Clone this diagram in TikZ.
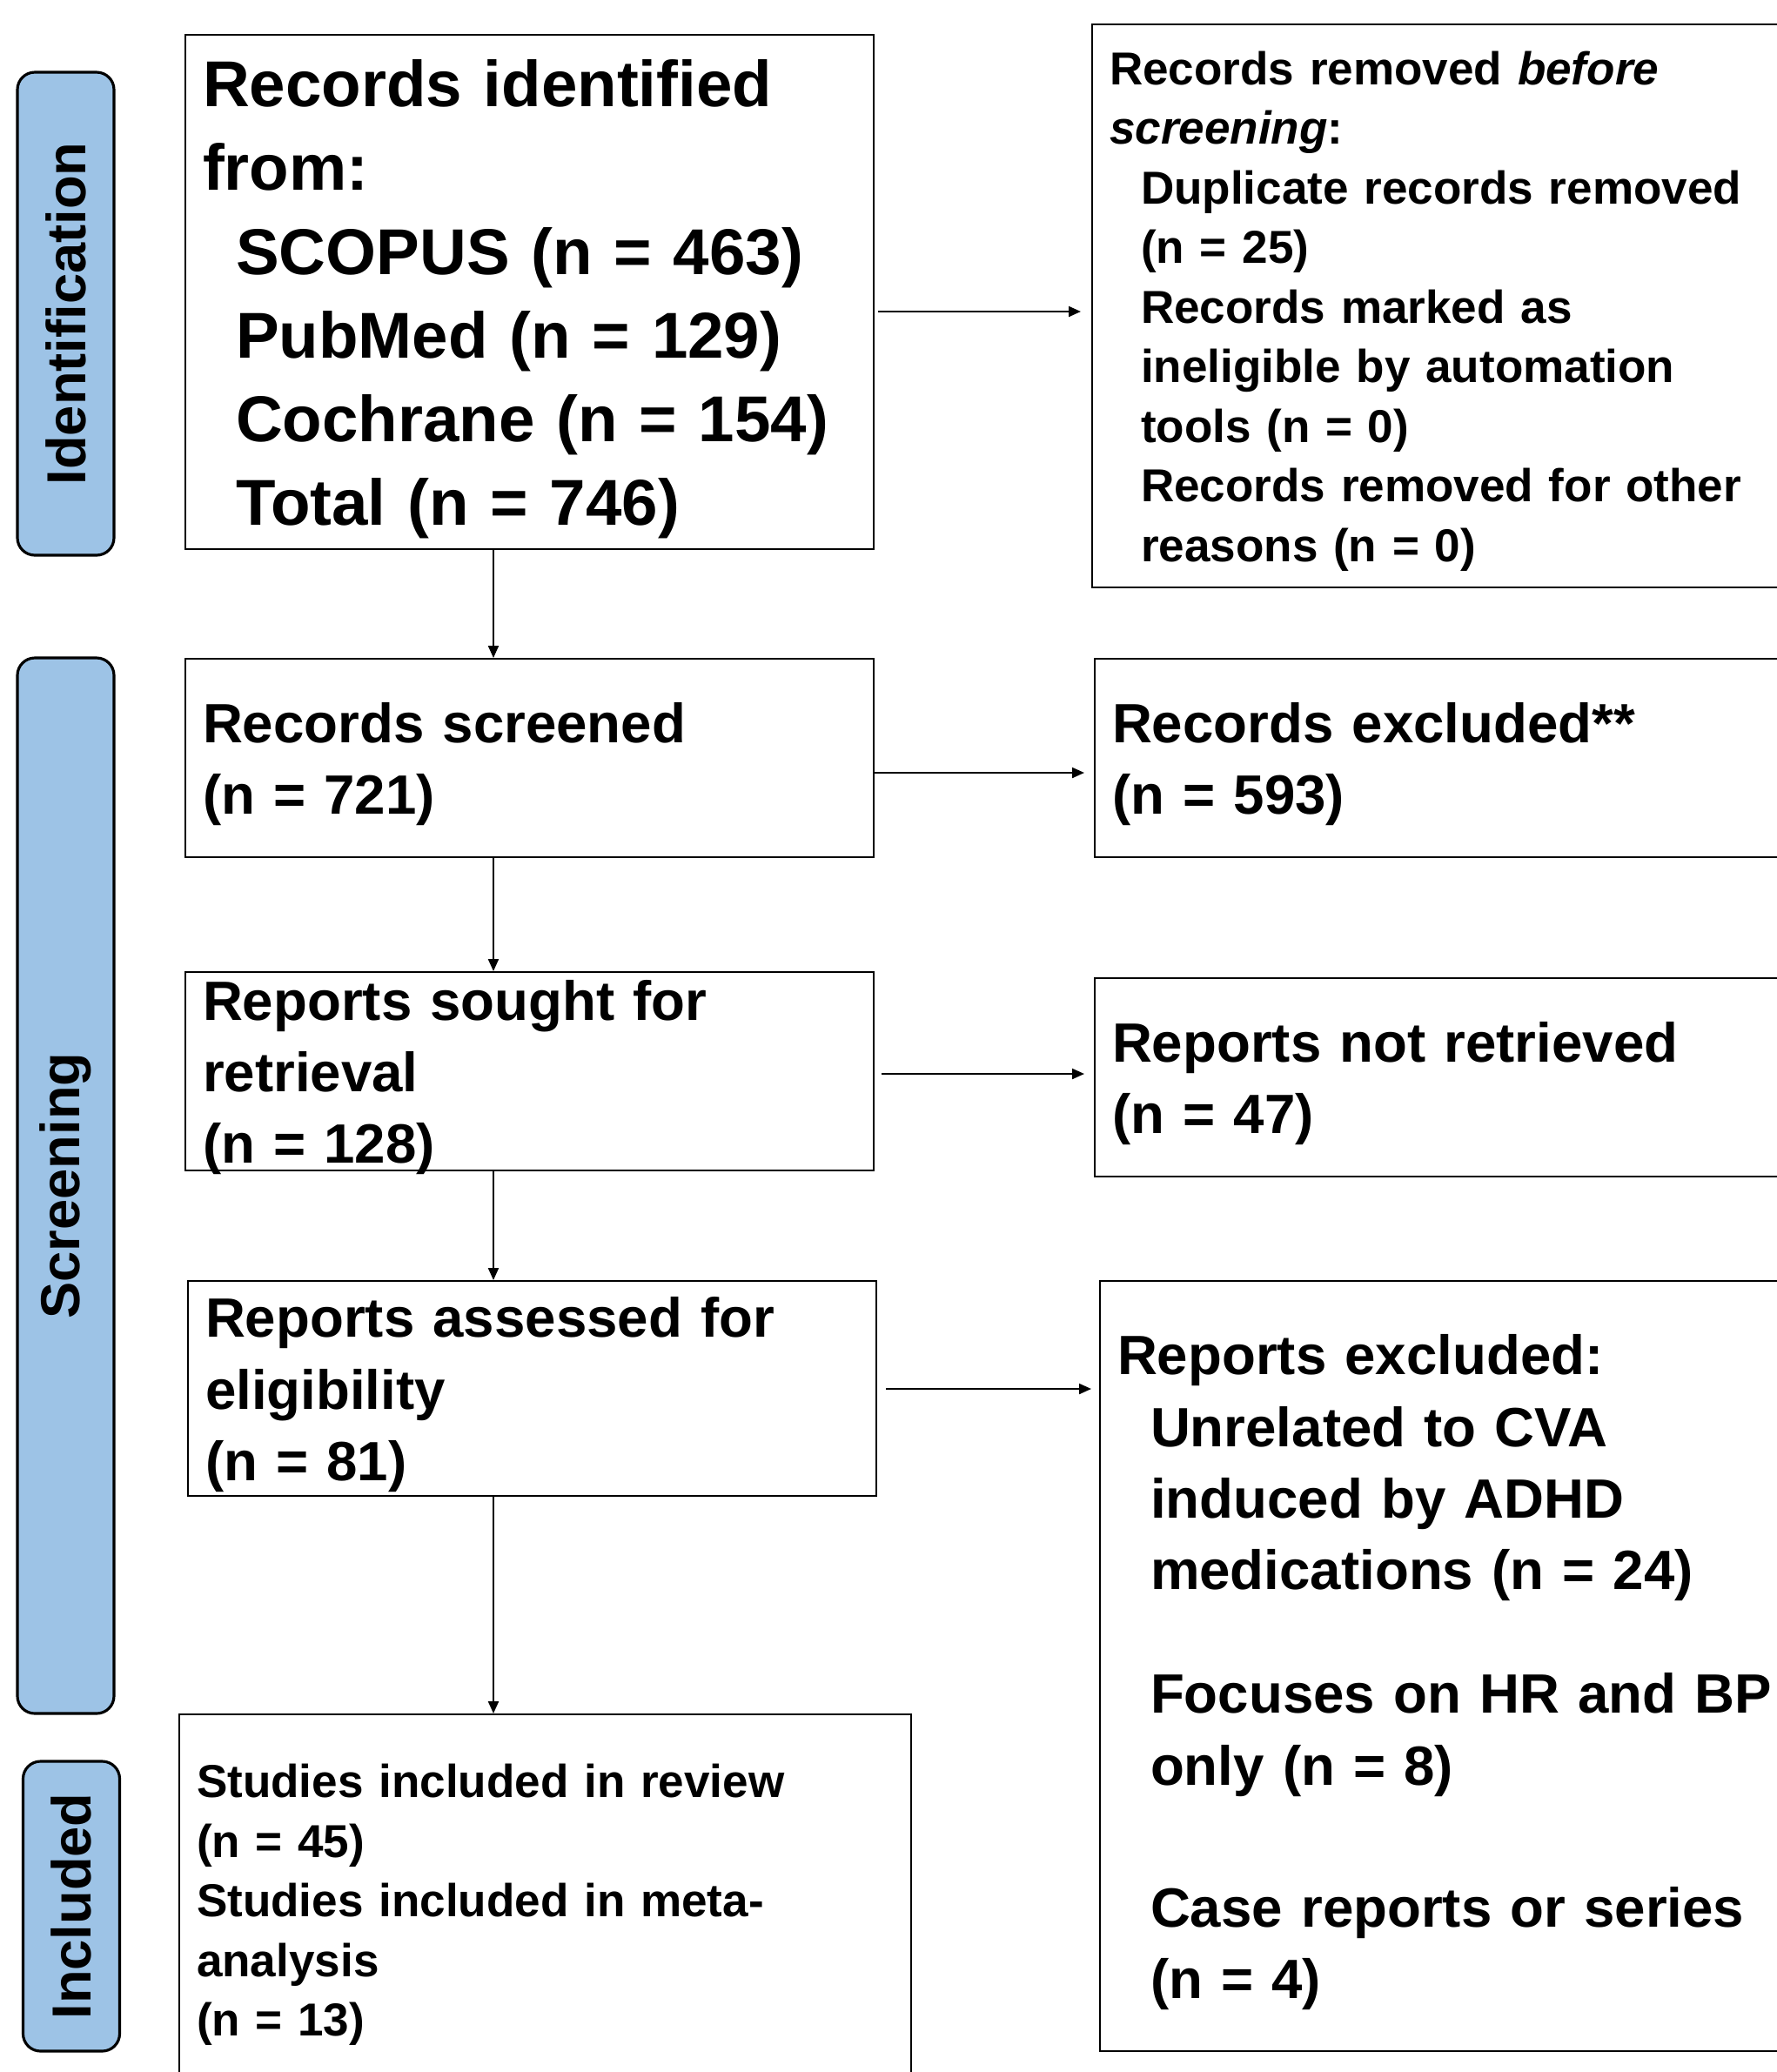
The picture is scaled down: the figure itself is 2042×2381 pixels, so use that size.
\documentclass[tikz,border=0pt]{standalone}
\usepackage{fontspec}
\setmainfont{Liberation Sans}
\usetikzlibrary{arrows.meta,positioning}
\definecolor{phaseblue}{HTML}{9DC3E6}
\newcommand{\boxgap}{\rule{0pt}{0.95em}}
\newcommand{\bigfont}{\fontsize{21.2}{27.4}\selectfont\bfseries\spaceskip=0.21em\relax}
\newcommand{\midfont}{\fontsize{18.1}{23.4}\selectfont\bfseries\spaceskip=0.24em\relax}
\newcommand{\smlfont}{\fontsize{15.1}{19.5}\selectfont\bfseries\spaceskip=0.25em\relax}

\begin{document}
\begin{tikzpicture}[x=0.1mm, y=-0.1mm,
    phase/.style={draw=black, line width=0.9pt, fill=phaseblue, rounded corners=2mm, rotate=90,
        minimum height=11.1mm, inner sep=0pt, font=\fontsize{18}{22}\selectfont\bfseries},
    flowbox/.style={draw=black, line width=0.6pt, anchor=north west, align=left,
        inner xsep=2mm, inner ysep=0pt, execute at begin node=\boxgap},
    bigtxt/.style={font=\bigfont},
    midtxt/.style={font=\midfont},
    smltxt/.style={font=\smlfont},
    arr/.style={-{Triangle[length=1.4mm,width=1.2mm]}, line width=0.6pt}
]
    \useasboundingbox (0,0) rectangle (2042,2381);
    \clip (0,0) rectangle (2042,2381);
    \def\ind{\hspace*{3.8mm}}

    % Phase labels
    \node[phase, minimum width=55.5mm] (pident) at (75.5,360.5) {Identification};
    \node[phase, minimum width=121.3mm] (pscreen) at (75.5,1362.5) {Screening};
    \node[phase, minimum width=33.3mm] (pincl) at (82,2190.5) {Included};

    % Identification
    \node[flowbox, bigtxt, text width=75.1mm, minimum height=59.1mm] (ident) at (212,39)
        {Records identified\\from:\\\ind SCOPUS (n = 463)\\\ind PubMed (n = 129)\\\ind Cochrane (n = 154)\\\ind Total (n = 746)};
    \node[flowbox, smltxt, text width=86mm, minimum height=64.7mm] (removed) at (1254,27)
        {Records removed \textit{before}\\\textit{screening}:\\\hspace*{3.6mm}Duplicate records removed\\\hspace*{3.6mm}(n = 25)\\\hspace*{3.6mm}Records marked as\\\hspace*{3.6mm}ineligible by automation\\\hspace*{3.6mm}tools (n = 0)\\\hspace*{3.6mm}Records removed for other\\\hspace*{3.6mm}reasons (n = 0)};

    % Screening
    \node[flowbox, midtxt, text width=75.1mm, minimum height=22.8mm] (screened) at (212,756)
        {Records screened\\(n = 721)};
    \node[flowbox, midtxt, text width=86mm, minimum height=22.8mm] (excluded) at (1257,756)
        {Records excluded**\\(n = 593)};
    \node[flowbox, midtxt, text width=75.1mm, minimum height=22.8mm, inner ysep=-0.7mm] (sought) at (212,1116)
        {Reports sought for\\retrieval\\(n = 128)};
    \node[flowbox, midtxt, text width=86mm, minimum height=22.8mm] (notret) at (1257,1123)
        {Reports not retrieved\\(n = 47)};
    \node[flowbox, midtxt, text width=75.1mm, minimum height=24.7mm] (assessed) at (215,1471)
        {Reports assessed for\\eligibility\\(n = 81)};
    \node[flowbox, midtxt, text width=86mm, minimum height=88.5mm] (repexcl) at (1263,1471)
        {Reports excluded:\\\ind Unrelated to CVA\\\ind induced by ADHD\\\ind medications (n = 24)\\[6mm]\ind Focuses on HR and BP\\\ind only (n = 8)\\[8.1mm]\ind Case reports or series\\\ind (n = 4)};

    % Included
    \node[flowbox, smltxt, text width=80.1mm, minimum height=42.6mm] (studies) at (205,1969)
        {Studies included in review\\(n = 45)\\Studies included in meta-\\analysis\\(n = 13)};

    % Connectors
    \coordinate (colx) at (567,0);
    \coordinate (rowa) at (0,358);
    \coordinate (rowb) at (0,888);
    \coordinate (rowc) at (0,1234);
    \coordinate (rowd) at (0,1596);

    \draw[arr] (ident.south -| colx) -- (screened.north -| colx);
    \draw[arr] (screened.south -| colx) -- (sought.north -| colx);
    \draw[arr] (sought.south -| colx) -- (assessed.north -| colx);
    \draw[arr] (assessed.south -| colx) -- (studies.north -| colx);

    \draw[arr, shorten <=0.4mm, shorten >=1.2mm] (ident.east |- rowa) -- (removed.west |- rowa);
    \draw[arr, shorten >=1.1mm] (screened.east |- rowb) -- (excluded.west |- rowb);
    \draw[arr, shorten <=0.8mm, shorten >=1.1mm] (sought.east |- rowc) -- (notret.west |- rowc);
    \draw[arr, shorten <=1mm, shorten >=0.9mm] (assessed.east |- rowd) -- (repexcl.west |- rowd);
\end{tikzpicture}
\end{document}
